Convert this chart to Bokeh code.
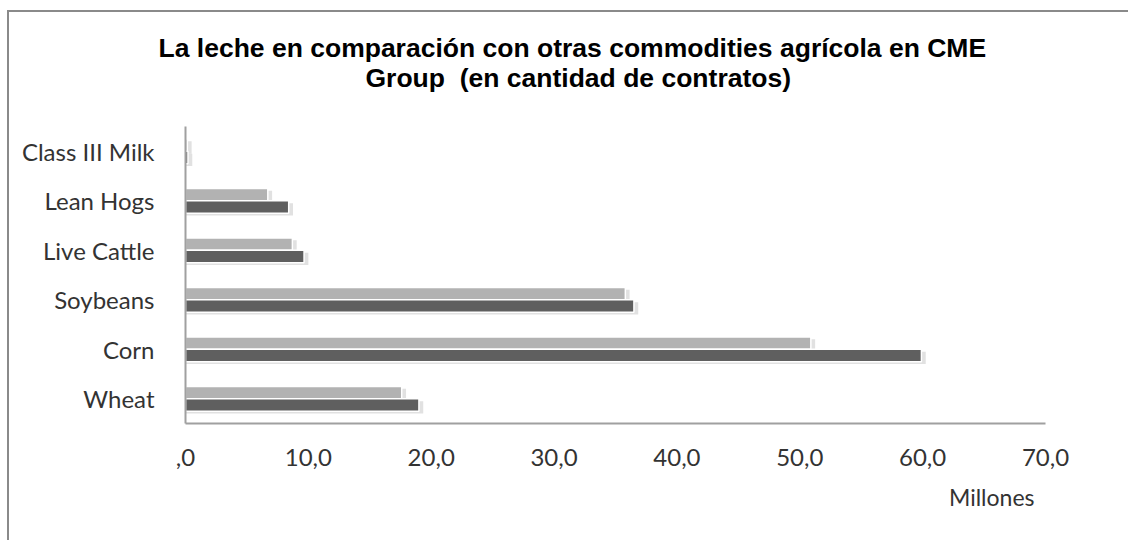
from bokeh.plotting import figure
from bokeh.models import ColumnDataSource, FactorRange, FixedTicker, Title
from bokeh.transform import dodge
from bokeh.embed import file_html
from bokeh.resources import INLINE

# ---- data ----
categories = ["Wheat", "Corn", "Soybeans", "Live Cattle", "Lean Hogs", "Class III Milk"]
serie_clara = [17.6, 50.9, 35.8, 8.7, 6.7, 0.15]   # light gray (upper bar)
serie_oscura = [19.0, 59.9, 36.5, 9.65, 8.4, 0.2]  # dark gray (lower bar)
x_ticks = [0, 10, 20, 30, 40, 50, 60, 70]
x_tick_labels = [",0", "10,0", "20,0", "30,0", "40,0", "50,0", "60,0", "70,0"]
title_line1 = "La leche en comparación con otras commodities agrícola en CME"
title_line2 = "Group \u00a0(en cantidad de contratos)"
x_label = "Millones"

src = ColumnDataSource(dict(cat=categories, clara=serie_clara, oscura=serie_oscura))

p = figure(
    width=1128, height=540,
    y_range=FactorRange(*categories, range_padding=0),
    x_range=(0, 70),
    output_backend="svg", toolbar_location=None,
    min_border_left=185, min_border_right=83,
    min_border_top=126, min_border_bottom=117,
    styles={"box-shadow": ("inset 7px 0 0 0 #ffffff, inset 0 10px 0 0 #ffffff, "
                           "inset 9px 0 0 0 #8a8a8a, inset 0 12px 0 0 #8a8a8a")},
)
p.title = None
p.outline_line_color = None
p.background_fill_color = "white"
p.border_fill_alpha = 0
p.xgrid.grid_line_color = None
p.ygrid.grid_line_color = None

# soft shadows behind the bars
for key, off in (("clara", 0.125), ("oscura", -0.125)):
    p.hbar(y=dodge("cat", off - 0.05, range=p.y_range), right=dodge(key, 0.35), left=0,
           height=0.25, source=src, fill_color="#d4d4d4", fill_alpha=0.7, line_color=None)

p.hbar(y=dodge("cat", 0.125, range=p.y_range), right="clara", left=0, height=0.25,
       source=src, fill_color="#b2b2b2", line_color="white", line_width=1.5)
p.hbar(y=dodge("cat", -0.125, range=p.y_range), right="oscura", left=0, height=0.25,
       source=src, fill_color="#5f5f5f", line_color="white", line_width=1.5)

# axes
p.xaxis.ticker = FixedTicker(ticks=x_ticks)
p.xaxis.major_label_overrides = {t: l for t, l in zip(x_ticks, x_tick_labels)}
for ax in (p.xaxis, p.yaxis):
    ax.axis_line_color = "#a0a0a0"
    ax.axis_line_width = 2
    ax.major_tick_line_color = None
    ax.minor_tick_line_color = None
    ax.major_label_text_font = "Lato"
    ax.major_label_text_font_size = "24px"
    ax.major_label_text_color = "#333333"
p.xaxis.major_label_standoff = 19
p.yaxis.major_label_standoff = 25

p.add_layout(Title(text=x_label, align="right", offset=11, text_font="Lato",
                   text_font_size="23px", text_font_style="normal",
                   text_color="#333333", standoff=25), "below")

# title: spacer next to the frame, then line 2, then line 1
p.add_layout(Title(text="\u00a0", align="left", text_font_size="1px", standoff=17), "above")
p.add_layout(Title(text=title_line2, align="left", offset=180, text_font="Liberation Sans",
                   text_font_style="bold", text_font_size="26.5px", text_color="black",
                   vertical_align="top", standoff=24), "above")
p.add_layout(Title(text=title_line1, align="left", offset=-27, text_font="Liberation Sans",
                   text_font_style="bold", text_font_size="26.5px", text_color="black",
                   vertical_align="bottom", standoff=-24), "above")

open("out.html", "w").write(file_html(p, INLINE))
